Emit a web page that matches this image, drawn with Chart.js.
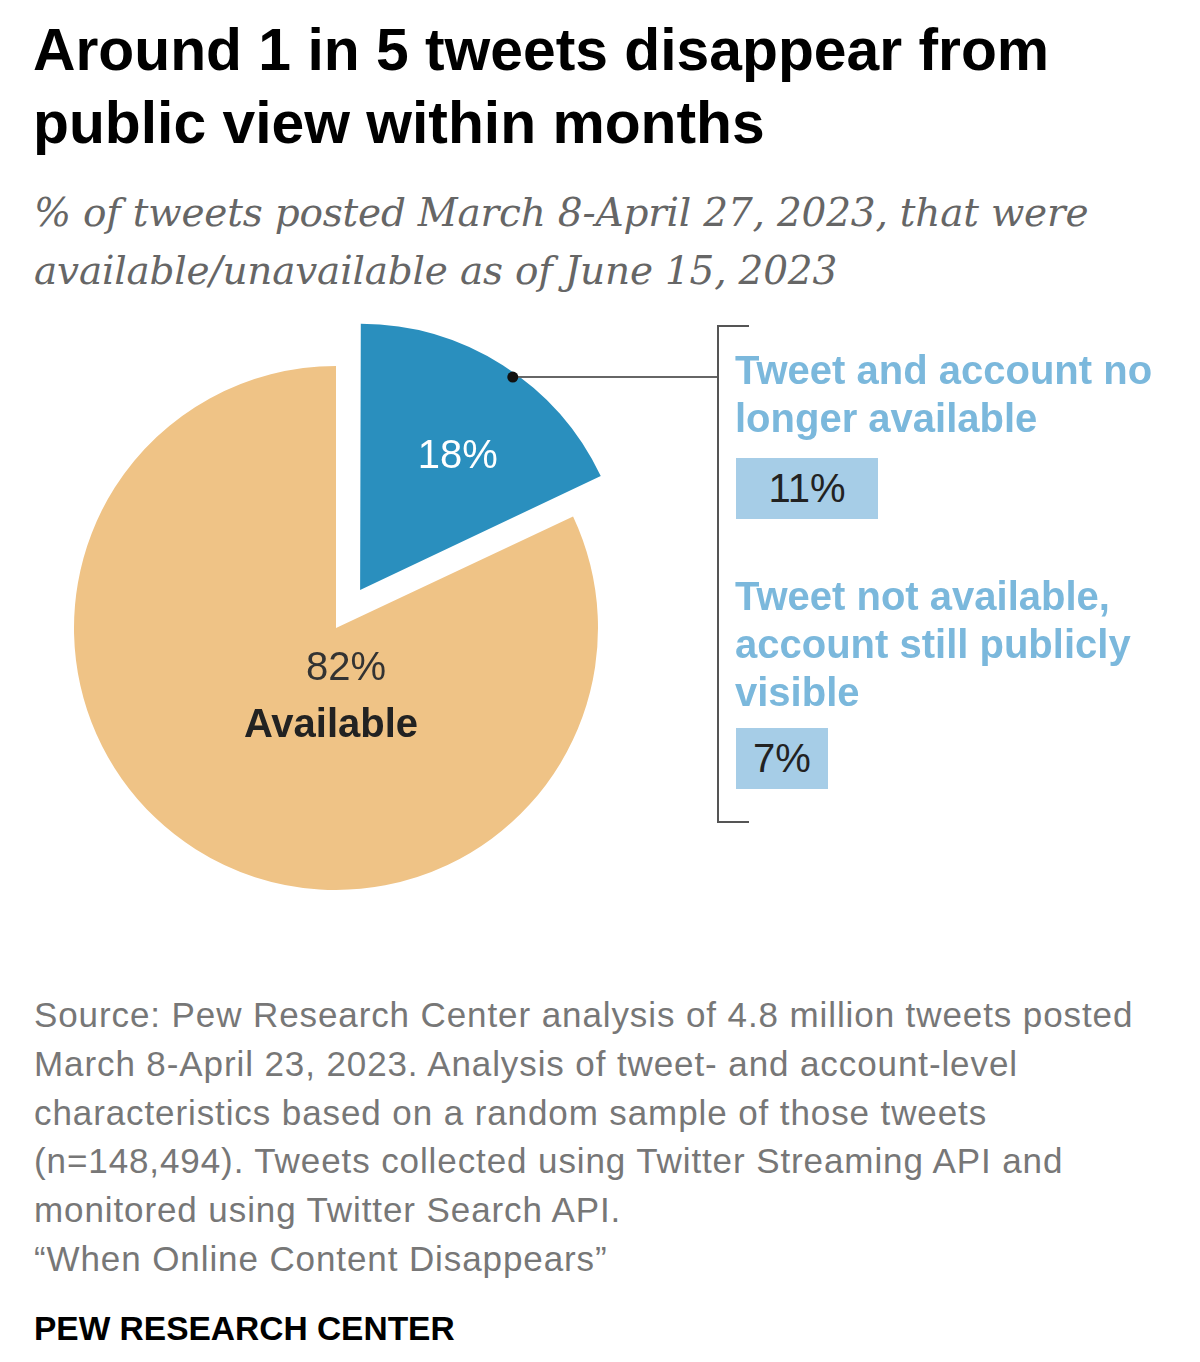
<!DOCTYPE html>
<html>
<head>
<meta charset="utf-8">
<script src="https://cdn.jsdelivr.net/npm/chart.js@4.4.0/dist/chart.umd.min.js"></script>
<style>
  body { margin: 0; background: #fff; }
  #page { position: relative; width: 1200px; height: 1362px; overflow: hidden; font-family: "Liberation Sans", Arial, sans-serif; }
  .abs { position: absolute; white-space: nowrap; }
  #title { left: 33px; top: 13px; font-size: 58.8px; line-height: 73px; font-weight: bold; color: #000; }
  #subtitle { left: 34px; top: 184px; font-family: "DejaVu Serif", "Liberation Serif", serif; font-style: italic; font-size: 39px; letter-spacing: -0.2px; line-height: 58px; color: #666; }
  .lab { left: 735px; font-size: 40px; line-height: 48px; font-weight: bold; color: #7bb8dc; }
  .box { left: 736px; background: #a6cde7; color: #222; font-size: 40px; text-align: center; }
  #bracket { left: 717px; top: 325px; width: 30px; height: 494px; border: 2px solid #555; border-right: none; }
  #source { left: 34px; top: 991px; font-size: 35px; letter-spacing: 0.9px; line-height: 48.8px; color: #777; }
  #credit { left: 34px; top: 1310px; font-size: 33.5px; font-weight: bold; color: #000; }
</style>
</head>
<body>
<div id="page">
  <div id="title" class="abs">Around 1 in 5 tweets disappear from<br>public view within months</div>
  <div id="subtitle" class="abs">% of tweets posted March 8-April 27, 2023, that were<br>available/unavailable as of June 15, 2023</div>

  <canvas id="pie" class="abs" width="1200" height="656" style="left:0;top:300px;"></canvas>

  <div id="bracket" class="abs"></div>
  <div id="lab1" class="abs lab" style="top:346px;"></div>
  <div id="box1" class="abs box" style="top:458px;width:142px;height:61px;line-height:61px;"></div>
  <div id="lab2" class="abs lab" style="top:572px;"></div>
  <div id="box2" class="abs box" style="top:728px;width:92px;height:61px;line-height:61px;"></div>

  <div id="source" class="abs">Source: Pew Research Center analysis of 4.8 million tweets posted<br>March 8-April 23, 2023. Analysis of tweet- and account-level<br>characteristics based on a random sample of those tweets<br>(n=148,494). Tweets collected using Twitter Streaming API and<br>monitored using Twitter Search API.<br>&ldquo;When Online Content Disappears&rdquo;</div>
  <div id="credit" class="abs">PEW RESEARCH CENTER</div>
</div>
<script>
// pie data
var categories = ['Not available', 'Available'];
var values     = [18, 82];
var colors     = ['#2a8fbe', '#efc386'];

// breakdown of the unavailable slice
var subLabels = ['Tweet and account no<br>longer available', 'Tweet not available,<br>account still publicly<br>visible'];
var subValues = [11, 7];

document.querySelector('#lab1').innerHTML = subLabels[0];
document.querySelector('#lab2').innerHTML = subLabels[1];
document.querySelector('#box1').textContent = subValues[0] + '%';
document.querySelector('#box2').textContent = subValues[1] + '%';

// labels + callout dot drawn from the arc geometry
const pieLabels = {
    id: 'pieLabels',
    afterDatasetsDraw(chart) {
        const ctx = chart.ctx;
        const arcs = chart.getDatasetMeta(0).data;
        const blue = arcs[0], orange = arcs[1];
        const shift = blue.options.offset / 4;
        const mid = (blue.startAngle + blue.endAngle) / 2;
        const bx = blue.x + Math.cos(mid) * shift;
        const by = blue.y + Math.sin(mid) * shift;
        const span = blue.endAngle - blue.startAngle;
        const r = blue.outerRadius;

        ctx.save();
        // callout
        const a = blue.startAngle + span * 0.55;
        const dx = bx + Math.cos(a) * r, dy = by + Math.sin(a) * r;
        ctx.strokeStyle = '#666';
        ctx.lineWidth = 2;
        ctx.beginPath();
        ctx.moveTo(dx, dy);
        ctx.lineTo(718, dy);
        ctx.stroke();
        ctx.fillStyle = '#111';
        ctx.beginPath();
        ctx.arc(dx, dy, 5.5, 0, Math.PI * 2);
        ctx.fill();

        ctx.textAlign = 'center';
        ctx.textBaseline = 'middle';
        ctx.font = '40px "Liberation Sans", Arial, sans-serif';
        const la = blue.startAngle + span * 0.56;
        ctx.fillStyle = '#fff';
        ctx.fillText(values[0] + '%', bx + Math.cos(la) * r * 0.63, by + Math.sin(la) * r * 0.63);

        ctx.fillStyle = '#333';
        ctx.fillText(values[1] + '%', orange.x + 10, orange.y + 41);
        ctx.fillStyle = '#222';
        ctx.font = 'bold 40px "Liberation Sans", Arial, sans-serif';
        ctx.fillText(categories[1], orange.x - 5, orange.y + 98);
        ctx.restore();
    }
};

const data = {
    labels: categories,
    datasets: [{data: values, backgroundColor: colors, borderWidth: 0, offset: [180, 0]}]
};
const config = {
    type: 'pie',
    data: data,
    options: {
        responsive: false,
        animation: false,
        events: [],
        radius: 262,
        layout: {padding: {right: 528}},
        plugins: {legend: {display: false}, tooltip: {enabled: false}}
    },
    plugins: [pieLabels]
};
const myChart = new Chart(document.querySelector('#pie'), config);
</script>
</body>
</html>
